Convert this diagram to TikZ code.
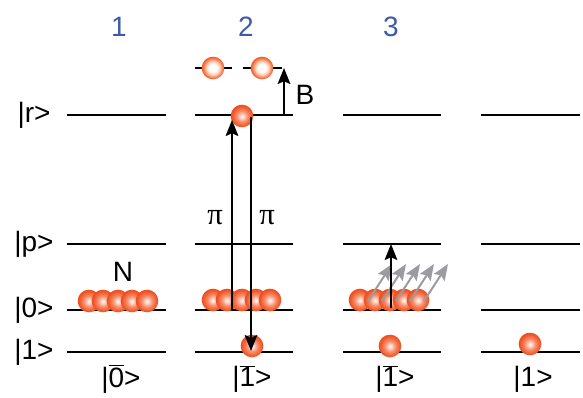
\documentclass[tikz,border=0pt]{standalone}
\usepackage{fontspec}
\setmainfont{Liberation Sans}
\newfontfamily\pifont{Liberation Serif}
\usetikzlibrary{arrows.meta}
\definecolor{numblue}{RGB}{60,90,170}
\definecolor{arrowgray}{RGB}{155,155,160}
\pgfdeclareradialshading{atomshade}{\pgfpoint{0bp}{-1bp}}{rgb(0bp)=(1,0.98,0.96); rgb(4bp)=(1,0.85,0.8); rgb(12bp)=(0.97,0.55,0.42); rgb(20bp)=(0.95,0.38,0.2); rgb(25bp)=(0.93,0.3,0.12); rgb(50bp)=(0.93,0.3,0.12)}
\pgfdeclareradialshading{paleshade}{\pgfpoint{0bp}{0bp}}{rgb(0bp)=(1,1,1); rgb(9bp)=(1,0.99,0.98); rgb(15bp)=(1,0.8,0.7); rgb(21bp)=(0.96,0.5,0.32); rgb(25bp)=(0.93,0.36,0.18); rgb(50bp)=(0.93,0.36,0.18)}
\newcommand\ovl[1]{\ensuremath{\overline{\mbox{#1}}}}
\tikzset{
  lvl/.style={line width=0.9pt},
  lbl/.style={font=\fontsize{21}{24}\selectfont, inner sep=0pt},
  num/.style={font=\fontsize{21}{24}\selectfont, text=numblue, inner sep=0pt},
  atom/.style={circle, minimum size=17pt, inner sep=0pt, shading=atomshade},
  pale/.style={circle, minimum size=17pt, inner sep=0pt, shading=paleshade},
  arr/.style={line width=1.2pt, -{Stealth[length=12pt,width=9.5pt,inset=2pt]}},
  garr/.style={line width=1.5pt, arrowgray, -{Stealth[length=12pt,width=9.5pt,inset=2pt]}},
}
\begin{document}
\begin{tikzpicture}[x=0.75pt,y=-0.75pt]
\useasboundingbox (0,0) rectangle (583,398);
% level lines
\foreach \c/\xa/\xb in {1/67/166, 2/195/293, 3/343/441, 4/481/580}{
  \foreach \l/\y in {r/115, p/244, z/310, o/352}{
    \coordinate (L\c\l a) at (\xa,\y);
    \coordinate (L\c\l b) at (\xb,\y);
    \draw[lvl] (L\c\l a) -- (L\c\l b);
  }
}
% left labels
\node[lbl] (kr) at (34,115) {|r>};
\node[lbl] (kp) at (34,244) {|p>};
\node[lbl] (k0) at (34,310) {|0>};
\node[lbl] (k1) at (34,352) {|1>};
% column numbers
\node[num] (n1) at (119,27) {1};
\node[num] (n2) at (246,27) {2};
\node[num] (n3) at (391,27) {3};
% bottom labels
\node[lbl] (b1) at (121,379) {|\ovl{0}>};
\node[lbl] (b2) at (252,379) {|\ovl{1}>};
\node[lbl] (b3) at (395,379) {|\ovl{1}>};
\node[lbl] (b4) at (533,379) {|1>};
% column 1
\node[lbl] (N) at (123,272) {N};
\foreach \x [count=\i] in {89,103,118,132,147}{
  \node[atom] (a1\i) at (\x,301) {};
}
% column 2
\draw[lvl] (195,68) -- (232,68);
\draw[lvl] (243,68) -- (282,68);
\node[pale] (p1) at (213,68) {};
\node[pale] (p2) at (262,68) {};
\foreach \x [count=\i] in {213,227,242,256,270}{
  \node[atom] (a2\i) at (\x,300) {};
}
\node[atom] (ryd) at (242,116) {};
\node[atom] (g2) at (252,346) {};
\coordinate (upS) at (232,310);
\coordinate (upE) at (232,120);
\coordinate (dnS) at (251,117);
\coordinate (dnE) at (251,351);
\draw[arr] (upS) -- (upE);
\draw[arr] (dnS) -- (dnE);
\node[lbl, font=\fontsize{23}{26}\pifont] (pi1) at (215,218) {π};
\node[lbl, font=\fontsize{23}{26}\pifont] (pi2) at (267,218) {π};
\coordinate (bS) at (284,115);
\coordinate (bE) at (284,68);
\draw[arr] (bS) -- (bE);
\node[lbl] (B) at (305,95) {B};
% column 3
\foreach \x [count=\i] in {360,375,390,404,418}{
  \node[atom] (a3\i) at (\x,300) {};
}
\foreach \x [count=\i] in {368,382,396,410,424}{
  \coordinate (gs\i) at (\x,301);
  \coordinate (ge\i) at (\x+24,264);
  \draw[garr] (gs\i) -- (ge\i);
}
\coordinate (kS) at (391,308);
\coordinate (kE) at (391,244);
\draw[arr] (kS) -- (kE);
\node[atom] (g3) at (390,346) {};
% column 4
\node[atom] (g4) at (530,344) {};
\end{tikzpicture}
\end{document}
